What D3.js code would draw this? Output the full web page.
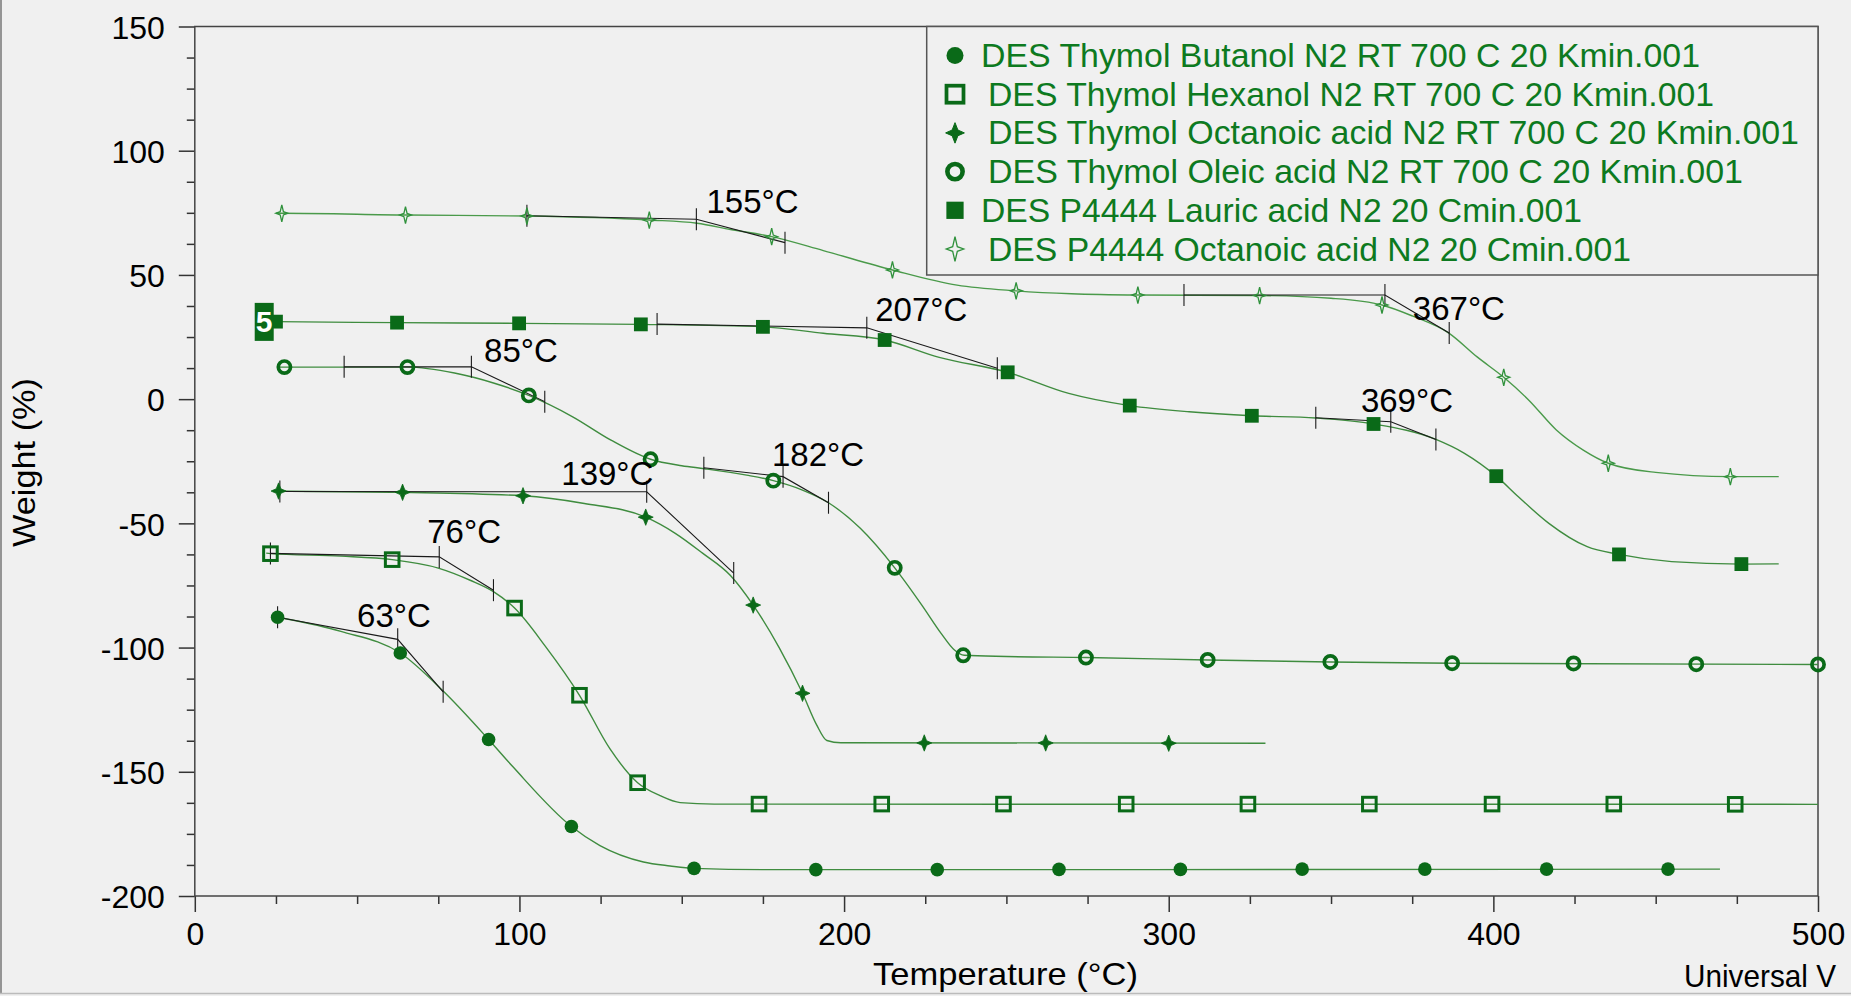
<!DOCTYPE html>
<html><head><meta charset="utf-8">
<script src="https://cdn.jsdelivr.net/npm/d3@7"></script>
<style>html,body{margin:0;padding:0;background:#f0f0f0;overflow:hidden}svg{display:block}</style>
</head><body><svg id="chart" width="1851" height="996"></svg>
<script>
// ---------------- DATA ----------------
const xTickValues = [0, 100, 200, 300, 400, 500];
const yTickValues = [150, 100, 50, 0, -50, -100, -150, -200];
const xLabel = "Temperature (°C)";
const yLabel = "Weight (%)";
const footerText = "Universal V";

const seriesNames = [
  "DES Thymol Butanol N2 RT 700 C 20 Kmin.001",
  "DES Thymol Hexanol N2 RT 700 C 20 Kmin.001",
  "DES Thymol Octanoic acid N2 RT 700 C 20 Kmin.001",
  "DES Thymol Oleic acid N2 RT 700 C 20 Kmin.001",
  "DES P4444 Lauric acid N2 20 Cmin.001",
  "DES P4444 Octanoic acid N2 20 Cmin.001"
];

// [temperature °C, weight %]
const butanolCurve = [[23.5,-87.3],[25.5,-87.8],[45,-93.5],[63.3,-102.2],[76.5,-117.5],[90.5,-137],[98,-148],[116,-172],[124.8,-179.7],[138.2,-186.3],[146.4,-187.9],[153.8,-188.9],[175,-189.4],[250,-189.4],[469.8,-189.2]];
const butanolMarkers = [[25.5,-87.8],[63.3,-102.2],[90.5,-137],[116,-172],[153.8,-188.9],[191.3,-189.4],[228.7,-189.4],[266.2,-189.3],[303.6,-189.3],[341.1,-189.2],[378.9,-189.2],[416.4,-189.2],[453.8,-189.2]];

const hexanolCurve = [[22,-62],[23.3,-62.2],[45,-63.2],[60.8,-64.6],[75,-68],[85,-73],[92,-77.5],[98.5,-84.1],[108,-99.5],[118.5,-119.2],[127.9,-140.8],[136.4,-154.4],[143.3,-159.6],[149.5,-162.4],[160,-163],[500,-163.1]];
const hexanolMarkers = [[23.3,-62.2],[60.8,-64.6],[98.5,-84.1],[118.5,-119.2],[136.4,-154.4],[173.8,-163],[211.6,-163],[249.1,-163],[286.9,-163],[324.4,-163],[361.8,-163],[399.6,-163],[437.1,-163],[474.5,-163.1]];

const octanoicCurve = [[24,-36.9],[25.8,-37],[64,-37.5],[101.1,-38.9],[120,-42],[138.9,-47.5],[148,-54],[156.4,-62],[165,-71],[172,-82.9],[180,-100],[187.2,-118.4],[191.5,-131],[194.7,-137.4],[199,-138.3],[329.8,-138.5]];
const octanoicMarkers = [[25.8,-37],[64,-37.5],[101.1,-38.9],[138.9,-47.5],[172,-82.9],[187.2,-118.4],[224.7,-138.4],[262.1,-138.4],[300,-138.5]];

const oleicCurve = [[26,12.9],[27.6,12.9],[65.5,12.9],[80,10.5],[92,6.5],[102.9,1.5],[116.4,-7.1],[128.2,-16.5],[140.4,-24.2],[150,-26.8],[157,-28],[170,-30.6],[178.2,-32.8],[187,-36.5],[195.2,-41.7],[205,-52],[215.6,-67.9],[224,-83],[230,-94.5],[234,-101],[237,-103.1],[250,-103.6],[274.5,-104],[312,-105],[349.8,-105.8],[387.3,-106.3],[500,-106.8]];
const oleicMarkers = [[27.6,12.9],[65.5,12.9],[102.9,1.5],[140.4,-24.2],[178.2,-32.8],[215.6,-67.9],[236.7,-103.1],[274.5,-104],[312,-105],[349.8,-105.8],[387.3,-106.3],[424.7,-106.4],[462.5,-106.7],[500,-106.8]];

const lauricCurve = [[24,31.3],[25,31.2],[62.3,30.8],[99.9,30.5],[137.4,30.1],[175,29.1],[193.6,26.5],[212.5,23.8],[229.3,16.8],[250.4,10.8],[269.2,2.3],[288,-2.6],[306.3,-5.1],[325.6,-6.7],[345.3,-7.6],[363.1,-10],[382.3,-16.2],[391.1,-21.8],[400.9,-31],[407.7,-39.3],[417.1,-50],[428.9,-59.4],[438.7,-62.5],[454.9,-65.4],[476.4,-66.4],[487.9,-66.3]];
const lauricMarkers = [[25,31.2],[62.3,30.8],[99.9,30.5],[137.4,30.1],[175,29.1],[212.5,23.8],[250.4,10.8],[288,-2.6],[325.6,-6.7],[363.1,-10],[400.9,-31],[438.7,-62.5],[476.4,-66.4]];

const p4444OctCurve = [[25,74.8],[26.8,74.8],[64.9,74.1],[102.3,73.7],[140,72.1],[154.7,70.8],[165,68.3],[177.7,65.4],[193.6,59.8],[214.9,52],[234.8,45.9],[253,43.6],[270,42.4],[290.5,41.9],[328,41.7],[350,40.6],[365.7,37.9],[375,33.5],[386.4,26.5],[395,17],[403.2,8.8],[411,-0.5],[419.4,-12.4],[427.7,-20.5],[435.4,-25.8],[450,-29.5],[473,-31.2],[487.9,-31.2]];
const p4444OctMarkers = [[26.8,74.8],[64.9,74.1],[102.3,73.7],[140,72.1],[177.7,65.4],[214.9,52],[253,43.6],[290.5,41.9],[328,41.7],[365.7,37.9],[403.2,8.8],[435.4,-25.8],[473,-31.2]];

// onset analyses: label, tangent start, intersection (onset), tangent end
const onsetLabels = ["155°C","367°C","207°C","369°C","85°C","182°C","139°C","76°C","63°C"];
const onsetStart = [[102.3,73.8],[304.7,41.9],[142.4,30.2],[345.3,-7.5],[46,13],[156.8,-27.6],[26.2,-37.2],[23.3,-62.1],[25.5,-87.8]];
const onsetPoint = [[154.5,72.4],[366.6,41.9],[207,28.7],[368.4,-9.1],[85.2,13],[181.2,-31.2],[139.2,-37.3],[75.3,-63.5],[62.5,-96.7]];
const onsetEnd   = [[181.8,63],[386.4,26.6],[247.2,12.4],[382.3,-16.2],[107.8,-1],[195.2,-41.7],[166,-70],[92,-76.9],[76.5,-117.8]];
const onsetLabelAt = [[157.6,74.8],[375.2,31.8],[209.6,31.6],[359.2,-5.1],[89.1,15.1],[177.8,-26.9],[112.9,-34.6],[71.6,-58.0],[50.0,-91.6]];

// ---------------- LAYOUT ----------------
const FONT = "'Liberation Sans', Arial, Helvetica, sans-serif";
const MARK = "#0a6a18", LINE = "#3f8c3f", LEG = "#0d7a20", STAR = "#2f913b", AX = "#333";
const svg = d3.select("#chart");
svg.append("rect").attr("width",1851).attr("height",996).attr("fill","#f0f0f0");

const x = d3.scaleLinear().domain([0,500]).range([194.8,1818]);
const y = d3.scaleLinear().domain([-200,150]).range([896,26.5]);

// border of picture
svg.append("line").attr("x1",1).attr("x2",1).attr("y1",0).attr("y2",994).attr("stroke","#777").attr("stroke-width",1.5);
svg.append("line").attr("x1",0).attr("x2",1851).attr("y1",993.5).attr("y2",993.5).attr("stroke","#bbb").attr("stroke-width",1.5);

// axes
const fmt = d => String(d);
function styleAxis(g){ g.select(".domain").remove(); g.selectAll(".tick line").attr("stroke",AX).attr("stroke-width",1.5); }
const xMinor = d3.range(0,501,25).filter(v=>v%100!==0);
const yMinor = d3.range(-200,150.1,12.5).filter(v=>v%50!==0);
const gx = svg.append("g").attr("transform",`translate(0,${y(-200)})`)
  .call(d3.axisBottom(x).tickValues(xTickValues).tickSize(16).tickPadding(10).tickFormat(fmt))
  .attr("font-size",32).attr("font-family",FONT);
styleAxis(gx); gx.selectAll("text").attr("fill","#000");
const gxm = svg.append("g").attr("transform",`translate(0,${y(-200)})`)
  .call(d3.axisBottom(x).tickValues(xMinor).tickSize(8).tickFormat(""));
styleAxis(gxm);
const gy = svg.append("g").attr("transform",`translate(${x(0)},0)`)
  .call(d3.axisLeft(y).tickValues(yTickValues).tickSize(16).tickPadding(14).tickFormat(fmt))
  .attr("font-size",32).attr("font-family",FONT);
styleAxis(gy); gy.selectAll("text").attr("fill","#000").attr("dy","0.37em");
const gym = svg.append("g").attr("transform",`translate(${x(0)},0)`)
  .call(d3.axisLeft(y).tickValues(yMinor).tickSize(8).tickFormat(""));
styleAxis(gym);

// frame
svg.append("rect").attr("x",x(0)).attr("y",y(150)).attr("width",x(500)-x(0)).attr("height",y(-200)-y(150))
  .attr("fill","none").attr("stroke","#444").attr("stroke-width",1.5);

// titles
svg.append("text").attr("x",873).attr("y",985).attr("font-family",FONT).attr("font-size",32)
  .attr("textLength",265).attr("lengthAdjust","spacingAndGlyphs").text(xLabel);
svg.append("text").attr("transform","translate(35,547) rotate(-90)").attr("font-family",FONT).attr("font-size",32)
  .attr("textLength",169).attr("lengthAdjust","spacingAndGlyphs").text(yLabel);
svg.append("text").attr("x",1684).attr("y",987).attr("font-family",FONT).attr("font-size",32).attr("fill","#000")
  .attr("textLength",152).attr("lengthAdjust","spacingAndGlyphs").text(footerText);

// curves
const line = d3.line().x(d=>x(d[0])).y(d=>y(d[1])).curve(d3.curveMonotoneX);
const curves = [butanolCurve, hexanolCurve, octanoicCurve, oleicCurve, lauricCurve, p4444OctCurve];
const markers = [butanolMarkers, hexanolMarkers, octanoicMarkers, oleicMarkers, lauricMarkers, p4444OctMarkers];
const markerTypes = ["fcircle","osquare","fstar","ocircle","fsquare","ostar"];
const gc = svg.append("g");
curves.forEach((c,i)=>{
  gc.append("path").attr("d",line(c)).attr("fill","none")
    .attr("stroke", i===5 ? "#4a9a4a" : LINE).attr("stroke-width",1.4);
});

// tangents / onsets
const gt = svg.append("g").attr("stroke","#1a1a1a").attr("stroke-width",1.1).attr("fill","none");
onsetLabels.forEach((lab,i)=>{
  const A = onsetStart[i], O = onsetPoint[i], C = onsetEnd[i];
  gt.append("path").attr("d",`M${x(A[0])},${y(A[1])}L${x(O[0])},${y(O[1])}L${x(C[0])},${y(C[1])}`);
  [A,O,C].forEach(p=>{
    gt.append("line").attr("x1",x(p[0])).attr("x2",x(p[0])).attr("y1",y(p[1])-11).attr("y2",y(p[1])+11);
  });
});

// marker drawing
function star4(r, rx, inner){
  return `M0,${-r}L${inner},${-inner}L${rx},0L${inner},${inner}L0,${r}L${-inner},${inner}L${-rx},0L${-inner},${-inner}Z`;
}
function drawMarker(g, type, cx, cy, s){
  const t = `translate(${cx},${cy}) scale(${s})`;
  switch(type){
    case "fcircle": g.append("circle").attr("cx",cx).attr("cy",cy).attr("r",6.8*s).attr("fill",MARK); break;
    case "osquare": g.append("rect").attr("transform",t).attr("x",-6.8).attr("y",-6.8).attr("width",13.6).attr("height",13.6)
        .attr("fill","none").attr("stroke",MARK).attr("stroke-width",3); break;
    case "fstar": g.append("path").attr("transform",t).attr("d",star4(8.2,7.5,2.3)).attr("fill",MARK).attr("stroke",MARK).attr("stroke-width",0.8); break;
    case "ocircle": g.append("circle").attr("cx",cx).attr("cy",cy).attr("r",6.1*s).attr("fill","none").attr("stroke",MARK).attr("stroke-width",3.7*s); break;
    case "fsquare": g.append("rect").attr("transform",t).attr("x",-6.9).attr("y",-6.9).attr("width",13.8).attr("height",13.8).attr("fill",MARK); break;
    case "ostar": g.append("path").attr("transform",t).attr("d",star4(8.5,6,1.6)).attr("fill","none").attr("stroke",STAR).attr("stroke-width",1.3/s); break;
  }
}
const gm = svg.append("g");
markers.forEach((arr,i)=>{
  arr.forEach(d=>drawMarker(gm, markerTypes[i], x(d[0]), y(d[1]), 1));
});

// curve number badge "5"
const b0 = lauricCurve[0];
svg.append("rect").attr("x",x(b0[0])-9.5-8.5).attr("y",y(b0[1])-19+0.5).attr("width",19).attr("height",38).attr("fill",MARK);
svg.append("text").attr("x",x(b0[0])-8.5).attr("y",y(b0[1])+11).attr("text-anchor","middle").attr("font-family",FONT)
  .attr("font-weight","bold").attr("font-size",30).attr("fill","#fff").text("5");

// onset labels
onsetLabels.forEach((lab,i)=>{
  svg.append("text").attr("x",x(onsetLabelAt[i][0])).attr("y",y(onsetLabelAt[i][1]))
    .attr("font-family",FONT).attr("font-size",33).attr("fill","#000").text(lab);
});

// legend
const lg = svg.append("g");
lg.append("rect").attr("x",926.7).attr("y",y(150)).attr("width",x(500)-926.7).attr("height",275-y(150))
  .attr("fill","#f0f0f0").attr("stroke","#555").attr("stroke-width",1.5);
const legTextX = [981,988,988,988,981,988];
const legTextW = [719,726,811,755,601,643];
seriesNames.forEach((name,i)=>{
  const cy = 55.5 + i*38.7;
  const sc = markerTypes[i]==="ostar" ? 1.45 : 1.25;
  drawMarker(lg, markerTypes[i], 955, cy, sc);
  lg.append("text").attr("x",legTextX[i]).attr("y",cy+11.5).attr("font-family",FONT).attr("font-size",33)
    .attr("fill",LEG).attr("textLength",legTextW[i]).attr("lengthAdjust","spacingAndGlyphs").text(name);
});
</script></body></html>
